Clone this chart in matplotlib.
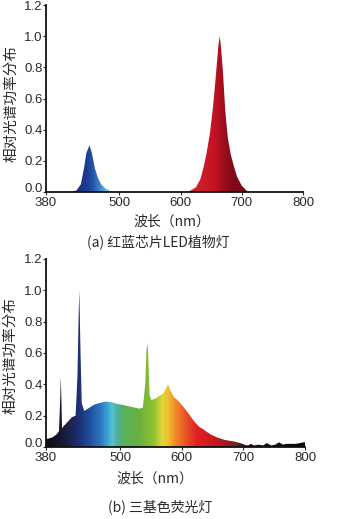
import numpy as np
import matplotlib
matplotlib.use("Agg")
import matplotlib.pyplot as plt
from matplotlib.colors import LinearSegmentedColormap

plt.rcParams["font.family"] = ["Noto Sans CJK SC", "DejaVu Sans"]

# (a) red/blue chip LED spectrum
led_nm = [380, 420, 430, 437, 442, 446, 451, 455, 460, 465, 470, 478, 488,
          612, 625, 632, 637, 642, 648, 653, 657, 660, 662, 664, 666, 669,
          673, 677, 682, 686, 692, 700, 710, 800]
led_val = [0.0, 0.0, 0.01, 0.05, 0.15, 0.25, 0.30, 0.25, 0.15, 0.09, 0.05, 0.02, 0.0,
           0.0, 0.03, 0.08, 0.15, 0.24, 0.38, 0.55, 0.72, 0.86, 0.95, 1.0, 0.93, 0.78,
           0.52, 0.35, 0.24, 0.18, 0.10, 0.04, 0.0, 0.0]

# (b) tri-phosphor fluorescent lamp spectrum
fl_nm = [380, 390, 397, 401, 403, 404, 405, 406, 408, 415, 422, 428, 431, 433,
         434, 436, 438, 442, 450, 458, 466, 477, 487, 496, 509, 520, 531, 537,
         541, 543, 545, 546, 548, 551, 558, 565, 570, 574, 578, 582, 587, 593,
         600, 610, 619, 628, 636, 647, 658, 670, 685, 695, 704, 708, 712, 718,
         725, 732, 738, 745, 752, 758, 764, 770, 778, 785, 792, 798, 800]
fl_val = [0.05, 0.06, 0.08, 0.10, 0.30, 0.45, 0.30, 0.12, 0.13, 0.16, 0.19, 0.20, 0.45,
          0.85, 1.0, 0.60, 0.28, 0.23, 0.25, 0.27, 0.28, 0.29, 0.285, 0.275, 0.265, 0.255,
          0.245, 0.25, 0.40, 0.62, 0.66, 0.55, 0.33, 0.30, 0.31, 0.33, 0.34, 0.37, 0.40,
          0.36, 0.32, 0.30, 0.27, 0.22, 0.17, 0.13, 0.11, 0.08, 0.06, 0.045, 0.035, 0.025,
          0.012, 0.01, 0.02, 0.01, 0.015, 0.01, 0.025, 0.01, 0.015, 0.03, 0.015, 0.02,
          0.02, 0.02, 0.025, 0.03, 0.03]

x_ticks = [380, 500, 600, 700, 800]
y_ticks = [0.0, 0.2, 0.4, 0.6, 0.8, 1.0, 1.2]
ylabel = "相对光谱功率分布"
xlabel = "波长（nm）"
captions = ["(a) 红蓝芯片LED植物灯", "(b) 三基色荧光灯"]


def nm_cmap(nodes):
    lo, hi = 380, 800
    return LinearSegmentedColormap.from_list(
        "nm", [((w - lo) / (hi - lo), c) for w, c in nodes])


led_cmap = nm_cmap([
    (380, "#1a2a70"), (420, "#1a2a70"), (445, "#1b3a90"), (455, "#2250a5"),
    (465, "#3a7cc4"), (478, "#6fb2dc"), (490, "#a0d0e8"),
    (600, "#d42a34"), (630, "#d01e2c"), (655, "#c41424"), (668, "#a20e1e"),
    (685, "#820a18"), (720, "#700a14"), (800, "#700a14")])

fl_cmap = nm_cmap([
    (380, "#0d0d14"), (400, "#16162c"), (412, "#1b1d42"), (430, "#1d2c6e"),
    (450, "#1f4ea0"), (468, "#2f78c0"), (480, "#39a8d8"), (487, "#5ac0d0"),
    (495, "#4fb0a0"), (505, "#58b060"), (530, "#6ab040"), (555, "#90c030"),
    (568, "#e0d838"), (578, "#f0c030"), (590, "#f08a28"), (605, "#e85828"),
    (625, "#e02020"), (660, "#c01820"), (690, "#702020"), (705, "#201010"),
    (800, "#080808")])


def draw(ax, nm, val, cmap):
    poly = ax.fill_between(nm, val, 0, facecolor="none", edgecolor="none")
    grad = np.linspace(0, 1, 600).reshape(1, -1)
    im = ax.imshow(grad, cmap=cmap, extent=[380, 800, 0, 1.2],
                   aspect="auto", origin="lower", interpolation="bilinear")
    im.set_clip_path(poly.get_paths()[0], transform=ax.transData)
    ax.set_xlim(380, 800)
    ax.set_ylim(0, 1.2)
    ax.set_xticks(x_ticks)
    ax.set_yticks(y_ticks)
    ax.set_yticklabels([f"{v:.1f}" for v in y_ticks])
    for s in ["top", "right"]:
        ax.spines[s].set_visible(False)
    for s in ["left", "bottom"]:
        ax.spines[s].set_linewidth(1.3)
        ax.spines[s].set_color("#111111")
    ax.tick_params(length=2, width=0.8, labelsize=9.5,
                   labelcolor="#2a2a2a", colors="#2a2a2a")
    ax.tick_params(axis="x", pad=1.5)
    ax.tick_params(axis="y", pad=0.5)
    for lab in ax.get_xticklabels() + ax.get_yticklabels():
        lab.set_family(["Liberation Sans", "DejaVu Sans"])
    # the 0.0 label sits on the axis line, just above the x tick row
    ax.get_yticklabels()[0].set_va("baseline")


W, H = 344, 519
fig = plt.figure(figsize=(W / 100, H / 100), dpi=100)

ax1 = fig.add_axes([46 / W, 1 - 192 / H, 257 / W, 187 / H])
draw(ax1, led_nm, led_val, led_cmap)
ax2 = fig.add_axes([46 / W, 1 - 447 / H, 259 / W, 188 / H])
draw(ax2, fl_nm, fl_val, fl_cmap)

txt = dict(color="#2a2a2a", ha="center", va="center")
fig.text(11 / W, 1 - 103 / H, ylabel, rotation=90, fontsize=10.5, **txt)
fig.text(10 / W, 1 - 355 / H, ylabel, rotation=90, fontsize=10.5, **txt)
fig.text(172 / W, 1 - 222 / H, xlabel, fontsize=10, **txt)
fig.text(155 / W, 1 - 479 / H, xlabel, fontsize=10, **txt)
fig.text(158 / W, 1 - 242 / H, captions[0], fontsize=10, **txt)
fig.text(160 / W, 1 - 507 / H, captions[1], fontsize=10, **txt)

fig.savefig("out.png", dpi=100)
